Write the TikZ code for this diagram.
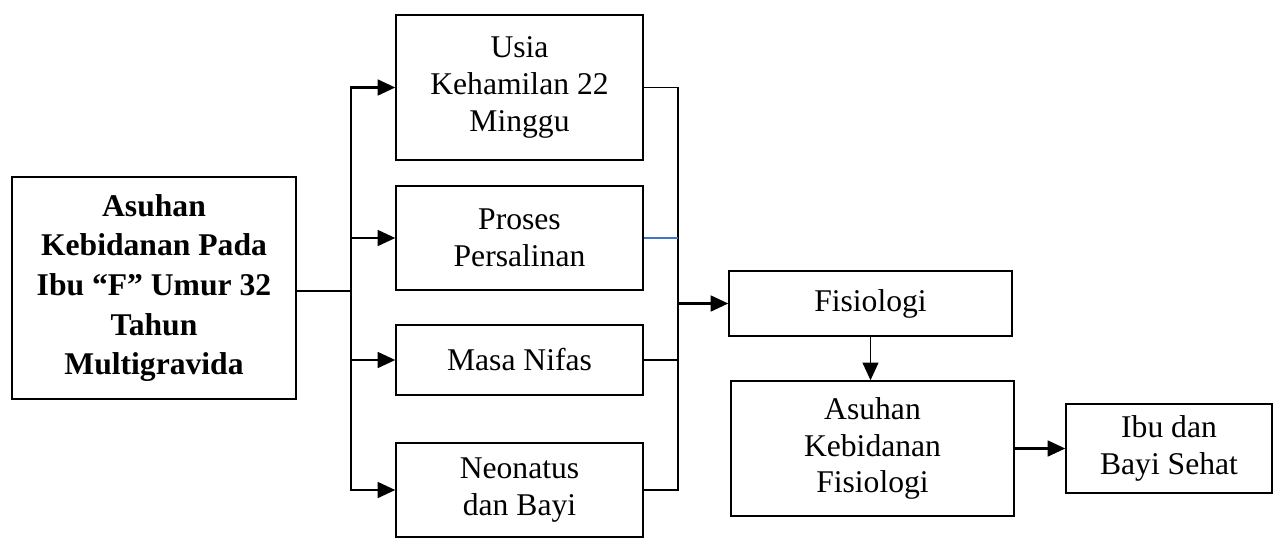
\documentclass[tikz,border=0pt]{standalone}
\usepackage{fontspec}
\setmainfont{Liberation Serif}
\usetikzlibrary{arrows.meta,positioning}
\definecolor{linkblue}{RGB}{68,114,196}

\begin{document}
\begin{tikzpicture}[x=0.02cm,y=-0.02cm,
   box/.style={draw,line width=0.9pt,align=center,inner sep=2pt,font=\fontsize{18}{21}\selectfont},
   link/.style={line width=0.75pt},
   arr/.style={line width=1.3pt,-{Triangle[length=10pt,width=9pt]}},
   elbowy/.style={to path={|- (\tikztotarget)}},
   elbowx/.style={to path={-| (\tikztotarget)}}]
   \useasboundingbox (0,0) rectangle (1280,552);
   \node[box,font=\bfseries\fontsize{18}{22.5}\selectfont,minimum width=5.68cm,minimum height=4.44cm] (asuhan) at (154,288) {Asuhan\\Kebidanan Pada\\Ibu “F” Umur 32\\Tahun\\Multigravida};
   \node[box,minimum width=4.94cm,minimum height=2.9cm] (usia) at (519.5,87.5) {Usia\\Kehamilan 22\\Minggu};
   \node[box,minimum width=4.94cm,minimum height=2.08cm] (proses) at (519.5,238) {Proses\\Persalinan};
   \node[box,minimum width=4.94cm,minimum height=1.4cm] (nifas) at (519.5,360) {Masa Nifas};
   \node[box,minimum width=4.94cm,minimum height=1.88cm] (neonatus) at (519.5,490) {Neonatus\\dan Bayi};
   \node[box,minimum width=5.66cm,minimum height=1.3cm] (fisiologi) at (870.5,303.5) {Fisiologi};
   \node[box,minimum width=5.66cm,minimum height=2.7cm] (askeb) at (872.5,448.5) {Asuhan\\Kebidanan\\Fisiologi};
   \node[box,minimum width=4.12cm,minimum height=1.78cm] (sehat) at (1169,448.5) {Ibu dan\\Bayi Sehat};
   \coordinate (split) at (351,291);
   \coordinate (merge) at (678,303.5);
    \path[link]
    (asuhan.east |- split) edge (split)
    (usia.east) edge[elbowx] (merge)
    (nifas.east) edge (nifas.east -| merge)
    (neonatus.east) edge[elbowx] (merge);
    \path[link,linkblue]
    (proses.east) edge (proses.east -| merge);
    \path[arr]
    (split) edge[elbowy] (usia.west)
            edge[elbowy] (proses.west)
            edge[elbowy] (nifas.west)
            edge[elbowy] (neonatus.west)
    (merge) edge (fisiologi.west)
    (fisiologi.south) edge[line width=0.9pt] (fisiologi.south |- askeb.north)
    (askeb.east) edge (sehat.west);
\end{tikzpicture}
\end{document}
